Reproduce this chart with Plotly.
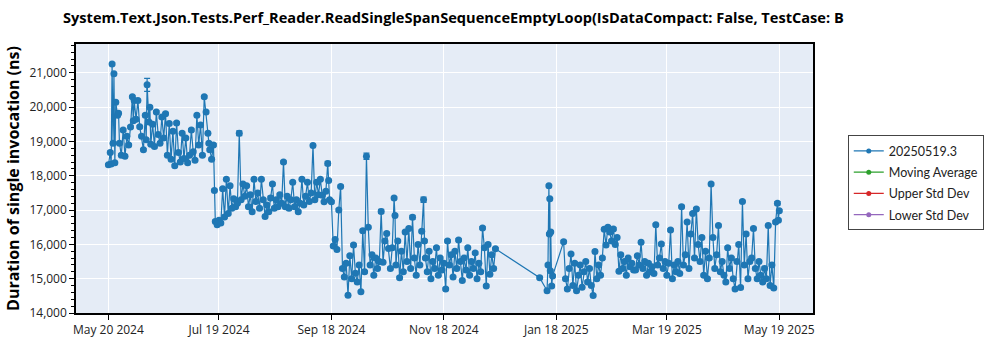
import plotly.graph_objects as go

# ---------------- data ----------------
dates_a = [
    "2024-05-20", "2024-05-21", "2024-05-21 12:00", "2024-05-22", "2024-05-22 12:00", "2024-05-23", "2024-05-23 12:00", "2024-05-24",
    "2024-05-25", "2024-05-25 12:00", "2024-05-26", "2024-05-27", "2024-05-28", "2024-05-29", "2024-05-30", "2024-05-31",
    "2024-06-01", "2024-06-02", "2024-06-02 12:00", "2024-06-03", "2024-06-04", "2024-06-05", "2024-06-06", "2024-06-07",
    "2024-06-08", "2024-06-09", "2024-06-09 12:00", "2024-06-10", "2024-06-11", "2024-06-11 12:00", "2024-06-12", "2024-06-13",
    "2024-06-14", "2024-06-15", "2024-06-16", "2024-06-17", "2024-06-18", "2024-06-19", "2024-06-20", "2024-06-21",
    "2024-06-22", "2024-06-23", "2024-06-24", "2024-06-25", "2024-06-26", "2024-06-27", "2024-06-28", "2024-06-29",
    "2024-06-30", "2024-07-01", "2024-07-02", "2024-07-03", "2024-07-04", "2024-07-05", "2024-07-06", "2024-07-07",
    "2024-07-08", "2024-07-09", "2024-07-10", "2024-07-11", "2024-07-12", "2024-07-13", "2024-07-13 12:00", "2024-07-14",
    "2024-07-15", "2024-07-16",
]
ns_a = [
    18320, 18680, 18340, 21260, 18950, 20970, 18380, 20140,
    19760, 19820, 18950, 18600, 19330, 18570, 19150, 18900,
    19420, 20300, 19600, 20190, 19650, 20190, 19430, 19150,
    18760, 19760, 19050, 20650, 19570, 20000, 18920, 19500,
    18850, 19860, 19200, 18950, 19710, 19100, 19810, 18600,
    19520, 18480, 19300, 18290, 19540, 18680, 18400, 19240,
    18500, 19100, 18380, 18600, 19330, 18700, 18450, 19760,
    18900, 19480, 18600, 20300, 19860, 19240, 18950, 18760,
    18480, 18900,
]

dates_b = [
    "2024-07-16 12:00", "2024-07-17", "2024-07-18", "2024-07-19", "2024-07-20", "2024-07-21", "2024-07-22", "2024-07-23",
    "2024-07-24", "2024-07-25", "2024-07-26", "2024-07-27", "2024-07-28", "2024-07-29", "2024-07-30", "2024-07-31",
    "2024-08-01", "2024-08-02", "2024-08-03", "2024-08-04", "2024-08-05", "2024-08-06", "2024-08-07", "2024-08-08",
    "2024-08-09", "2024-08-10", "2024-08-11", "2024-08-12", "2024-08-13", "2024-08-14", "2024-08-15", "2024-08-16",
    "2024-08-17", "2024-08-18", "2024-08-19", "2024-08-20", "2024-08-21", "2024-08-22", "2024-08-23", "2024-08-24",
    "2024-08-25", "2024-08-26", "2024-08-27", "2024-08-28", "2024-08-29", "2024-08-30", "2024-08-31", "2024-09-01",
    "2024-09-02", "2024-09-03", "2024-09-04", "2024-09-05", "2024-09-06", "2024-09-07", "2024-09-08", "2024-09-09",
    "2024-09-10", "2024-09-11", "2024-09-12", "2024-09-13", "2024-09-14", "2024-09-15", "2024-09-16", "2024-09-16 12:00",
    "2024-09-17", "2024-09-18",
]
ns_b = [
    17570, 16670, 16570, 16700, 16620, 17620, 16800, 17900,
    16900, 17710, 17050, 17330, 17100, 17200, 19240, 17300,
    17760, 17400, 17710, 17100, 17450, 16950, 17900, 17250,
    17500, 17050, 17900, 17300, 16810, 17150, 16950, 17350,
    17760, 17050, 17300, 17100, 17450, 17200, 18400, 17100,
    17400, 17050, 17300, 17810, 17100, 17300, 16950, 17200,
    17900, 17150, 17400, 17810, 17250, 17500, 18880, 17300,
    17810, 17450, 17900, 17430, 17240, 17550, 18360, 17860,
    17300, 17240,
]

dates_c = [
    "2024-09-19", "2024-09-20", "2024-09-21", "2024-09-22", "2024-09-23", "2024-09-24", "2024-09-25", "2024-09-26",
    "2024-09-27", "2024-09-28", "2024-09-29", "2024-09-30", "2024-10-01", "2024-10-02", "2024-10-03", "2024-10-04",
    "2024-10-05", "2024-10-06", "2024-10-07", "2024-10-08", "2024-10-09", "2024-10-10", "2024-10-11", "2024-10-12",
    "2024-10-13", "2024-10-14", "2024-10-15", "2024-10-16", "2024-10-17", "2024-10-18", "2024-10-19", "2024-10-20",
    "2024-10-21", "2024-10-22", "2024-10-22 12:00", "2024-10-23", "2024-10-24", "2024-10-25", "2024-10-26", "2024-10-27",
    "2024-10-28", "2024-10-29", "2024-10-30", "2024-10-31", "2024-11-01", "2024-11-02", "2024-11-03", "2024-11-04",
    "2024-11-05", "2024-11-06", "2024-11-07", "2024-11-07 12:00", "2024-11-08", "2024-11-09", "2024-11-10", "2024-11-11",
    "2024-11-12", "2024-11-13", "2024-11-14", "2024-11-15", "2024-11-16", "2024-11-17", "2024-11-18", "2024-11-19",
    "2024-11-20", "2024-11-21", "2024-11-22", "2024-11-23", "2024-11-24", "2024-11-25", "2024-11-26", "2024-11-27",
    "2024-11-28", "2024-11-29", "2024-11-30", "2024-12-01", "2024-12-02", "2024-12-03", "2024-12-04", "2024-12-05",
    "2024-12-06", "2024-12-07", "2024-12-08", "2024-12-09", "2024-12-10", "2024-12-11", "2024-12-12", "2024-12-13",
    "2024-12-14", "2024-12-15", "2024-12-16",
]
ns_c = [
    15950, 16140, 15850, 17000, 17690, 15300, 15050, 15450,
    14520, 15670, 15000, 15980, 15160, 14900, 15400, 14620,
    16400, 15200, 18570, 16500, 15400, 15700, 15100, 15600,
    15300, 15500, 16960, 15480, 16100, 16320, 15880, 15300,
    15900, 17350, 16840, 15400, 16100, 15030, 15800, 15200,
    16360, 15500, 16460, 15300, 16790, 15600, 15100, 16000,
    15400, 16380, 17300, 16100, 15600, 15200, 15800, 15000,
    15500, 15300, 15900, 15100, 15600, 15250, 15450, 14700,
    16100, 15400, 15700, 15050, 15800, 15300, 16130, 15500,
    14950, 15600, 15250, 15900, 15100, 15500, 15300, 15750,
    15000, 15450, 15200, 16480, 15900, 14790, 16000, 15130,
    15700, 15300, 15870,
]

dates_d = [
    "2025-01-09", "2025-01-13", "2025-01-13 12:00", "2025-01-14", "2025-01-14 06:00",
    "2025-01-14 12:00", "2025-01-14 18:00", "2025-01-15", "2025-01-15 12:00", "2025-01-16",
]
ns_d = [15030, 14650, 15400, 17710, 16300, 17330, 15230, 16360, 14790, 15080]

dates_e = [
    "2025-01-22", "2025-01-23", "2025-01-24", "2025-01-25", "2025-01-26", "2025-01-27", "2025-01-28", "2025-01-29",
    "2025-01-30", "2025-01-31", "2025-02-01", "2025-02-02", "2025-02-03", "2025-02-04", "2025-02-05", "2025-02-06",
    "2025-02-07", "2025-02-08", "2025-02-09", "2025-02-10", "2025-02-11", "2025-02-12", "2025-02-13", "2025-02-14",
    "2025-02-15", "2025-02-16", "2025-02-17", "2025-02-18", "2025-02-19", "2025-02-20", "2025-02-21", "2025-02-22",
    "2025-02-23", "2025-02-24", "2025-02-25", "2025-02-26", "2025-02-27", "2025-02-28", "2025-03-01", "2025-03-02",
    "2025-03-03", "2025-03-04", "2025-03-05", "2025-03-06", "2025-03-07", "2025-03-08", "2025-03-09", "2025-03-10",
    "2025-03-11", "2025-03-12", "2025-03-13", "2025-03-14", "2025-03-15", "2025-03-16", "2025-03-17", "2025-03-18",
    "2025-03-19", "2025-03-20", "2025-03-21", "2025-03-22", "2025-03-23", "2025-03-24", "2025-03-25", "2025-03-26",
    "2025-03-27", "2025-03-28", "2025-03-29", "2025-03-30", "2025-03-31", "2025-04-01", "2025-04-02", "2025-04-03",
    "2025-04-04", "2025-04-05", "2025-04-06", "2025-04-07", "2025-04-08", "2025-04-09", "2025-04-10", "2025-04-11",
    "2025-04-12", "2025-04-13", "2025-04-14", "2025-04-15", "2025-04-16", "2025-04-17", "2025-04-18", "2025-04-19",
    "2025-04-20", "2025-04-21", "2025-04-22", "2025-04-23", "2025-04-24", "2025-04-25", "2025-04-26", "2025-04-27",
    "2025-04-28", "2025-04-29", "2025-04-30", "2025-05-01", "2025-05-02", "2025-05-03", "2025-05-04", "2025-05-05",
    "2025-05-06", "2025-05-07", "2025-05-08", "2025-05-09", "2025-05-10", "2025-05-11", "2025-05-12", "2025-05-13",
    "2025-05-14", "2025-05-15", "2025-05-16", "2025-05-17", "2025-05-18", "2025-05-18 12:00", "2025-05-19",
]
ns_e = [
    16080, 15000, 14700, 15300, 15720, 14800, 15450, 14650,
    15100, 15400, 14750, 15200, 15500, 14900, 15300, 14800,
    14510, 15790, 15000, 15400, 15100, 15600, 16440, 15980,
    16500, 16360, 16100, 16450, 16000, 16200, 15220, 15700,
    15300, 15500, 15100, 15600, 15350, 15450, 15250, 15250,
    15670, 15400, 16060, 15300, 15500, 15100, 15450, 15200,
    15350, 15150, 16570, 15400, 15600, 16010, 15300, 15500,
    15100, 15450, 16420, 15000, 15400, 15200, 15500, 15150,
    17100, 15400, 15700, 16650, 15300, 16300, 16900, 15600,
    17030, 16000, 15500, 16200, 15100, 15800, 15000, 15600,
    17760, 16200, 15300, 15700, 16550, 15200, 15500, 15100,
    14900, 15900, 15300, 15600, 15000, 14700, 15500, 16000,
    14740, 17250, 15400, 16300, 15000, 15500, 15600, 16460,
    15300, 15000, 15500, 15100, 14900, 15300, 15000, 16550,
    14800, 15400, 14730, 16650, 17200, 16700, 16980,
]

# standard-deviation error bars: most are small, a few are visible
default_err = 35
err_overrides = {
    "2024-06-10": 190, "2024-07-30": 70, "2024-08-16": 55, "2024-09-16": 60,
    "2024-10-07": 90, "2024-10-15": 60, "2024-11-01": 55, "2024-11-07": 80,
    "2025-05-18": 50,
}

tick_dates = ["2024-05-20", "2024-07-19", "2024-09-18", "2024-11-18",
              "2025-01-18", "2025-03-19", "2025-05-19"]

series_names = ["20250519.3", "Moving Average", "Upper Std Dev", "Lower Std Dev"]
series_colors = ["#1f77b4", "#2ca02c", "#d62728", "#9467bd"]

title_text = "System.Text.Json.Tests.Perf_Reader.ReadSingleSpanSequenceEmptyLoop(IsDataCompact: False, TestCase: B"
y_title = "Duration of single invocation (ns)"

# ---------------- figure ----------------
dates = dates_a + dates_b + dates_c + dates_d + dates_e
ns = ns_a + ns_b + ns_c + ns_d + ns_e
assert len(dates) == len(ns)
errs = [err_overrides.get(d, default_err) for d in dates]

FONT = "Open Sans, Noto Sans, sans-serif"
LEG_FONT = "Lato, Open Sans, sans-serif"
BLUE = series_colors[0]

fig = go.Figure()
fig.add_trace(go.Scatter(
    x=dates, y=ns, mode="lines+markers", name=series_names[0], showlegend=False,
    line=dict(color=BLUE, width=1.2),
    marker=dict(size=7, color=BLUE),
    error_y=dict(type="data", array=errs, visible=True, color=BLUE, thickness=1.2, width=3),
))
# legend entries (small markers like the reference legend)
for i, (name, col) in enumerate(zip(series_names, series_colors)):
    fig.add_trace(go.Scatter(x=[None], y=[None], mode="lines+markers", name=name,
                             legendgroup=f"g{i}",
                             line=dict(color=col, width=1.2), marker=dict(size=5, color=col),
                             showlegend=True))

W, H = 1000, 350
ML, MR, MT, MB = 71, 187, 44, 32
pw, ph = W - ML - MR, H - MT - MB

leg_left_px, leg_top_px = 848, 137
lx = (leg_left_px - ML) / pw
ly = (H - MB - leg_top_px) / ph

# drop shadow: grey strips along the right and bottom edges of the legend box
shadow_right = (975, 980, 141, 233)   # x0, x1, y0, y1 in px
shadow_bottom = (852, 980, 229, 233)
for x0, x1, y0, y1 in (shadow_right, shadow_bottom):
    fig.add_shape(type="rect", xref="paper", yref="paper", layer="above",
                  x0=(x0 - ML) / pw, x1=(x1 - ML) / pw,
                  y0=(H - MB - y1) / ph, y1=(H - MB - y0) / ph,
                  fillcolor="#8a8a8a", line=dict(width=0))

axis_common = dict(showline=True, linecolor="black", linewidth=1.5, mirror=True,
                   ticks="outside", tickcolor="black", ticklen=5,
                   gridcolor="white", gridwidth=1,
                   tickfont=dict(family=FONT, size=12, color="#222"))

fig.update_layout(
    width=W, height=H,
    margin=dict(l=ML, r=MR, t=MT, b=MB),
    paper_bgcolor="white", plot_bgcolor="#e5ecf6",
    font=dict(family=FONT, size=12, color="#222"),
    title=dict(text=f"<b>{title_text}</b>", x=63 / W, xanchor="left", y=1 - 18 / H, yanchor="middle",
               font=dict(family=FONT, size=14.6, color="black")),
    xaxis=dict(type="date", range=["2024-05-02 10:00", "2025-06-06 07:00"],
               tickvals=tick_dates, tickformat="%b %d %Y", **axis_common),
    yaxis=dict(range=[14000, 21840], dtick=1000, tick0=14000, tickformat=",",
               minor=dict(dtick=200, ticks="outside", ticklen=3, tickcolor="black", showgrid=False),
               title=dict(text=f"<b>{y_title}</b>", font=dict(family=FONT, size=16, color="black"), standoff=6),
               **axis_common),
    legend=dict(x=lx, y=ly, xanchor="left", yanchor="top", bgcolor="white",
                bordercolor="#444", borderwidth=1, font=dict(family=LEG_FONT, size=12.5, color="#222"),
                traceorder="grouped", tracegroupgap=2, itemwidth=30),
    showlegend=True,
)

fig.write_html("out.html")
